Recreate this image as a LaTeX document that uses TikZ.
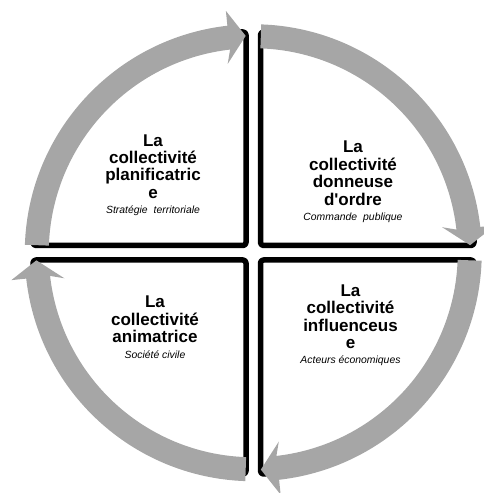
\documentclass[tikz,border=0pt]{standalone}
\usepackage{fontspec}
\setmainfont{Liberation Sans}
\usetikzlibrary{calc}
\definecolor{arrowgray}{RGB}{166,166,166}
\newcommand\subtxt[1]{{\fontsize{10.4}{12}\selectfont\mdseries\itshape #1}}
\begin{document}
\begin{tikzpicture}[x=1pt,y=1pt,
  frame/.style={line width=5.5pt, rounded corners=3pt, line join=round},
  title/.style={align=center, inner sep=0pt, outer sep=0pt, anchor=north,
    font=\fontsize{17}{17.4}\selectfont\bfseries},
  cyclearrow/.style={fill=arrowgray}]
\useasboundingbox (0,0) rectangle (484,493);
\clip (0,0) rectangle (484,493);
\coordinate (C) at (253.25,240.25);
% inner edges of the four quadrants
\draw[frame] (240,461) -- (246,461) -- (246,247.5) -- (33,247.5) -- (33,253.5);
\draw[frame] (266.5,461) -- (260.5,461) -- (260.5,247.5) -- (474,247.5) -- (474,253.5);
\draw[frame] (33,227) -- (33,233) -- (246,233) -- (246,19) -- (240,19);
\draw[frame] (474,227) -- (474,233) -- (260.5,233) -- (260.5,19) -- (266.5,19);
% curved arrows
\begin{scope}[shift={(C)}]
\foreach \a [evaluate=\a as \b using \a-86, evaluate=\a as \h using \a-81] in {178,88,-2,-92} {
  \fill[cyclearrow] (\a:228.5) arc[start angle=\a, end angle=\h-0.5, radius=228.5]
    -- ($(\h:217)+(\b:26.5)$) -- (\b:217) -- ($(\h:217)+(\b+180:26.5)$)
    -- (\h-0.5:204.5) arc[start angle=\h-0.5, end angle=\a, radius=204.5] -- cycle;
}
\end{scope}
% texts
\node[title] (tl) at (153,358.5) {La\\collectivité\\planificatric\\e\\[-2pt]\subtxt{Stratégie\hspace{0.3em} territoriale}};
\node[title] (tr) at (353,351.7) {La\\collectivité\\donneuse\\d\textquotesingle ordre\\[-2pt]\subtxt{Commande\hspace{0.3em} publique}};
\node[title] (bl) at (155,196.7) {La\\collectivité\\animatrice\\[-2pt]\subtxt{Société civile}};
\node[title] (br) at (350.5,208.3) {La\\collectivité\\influenceus\\e\\[-2pt]\subtxt{Acteurs économiques}};
\end{tikzpicture}
\end{document}
